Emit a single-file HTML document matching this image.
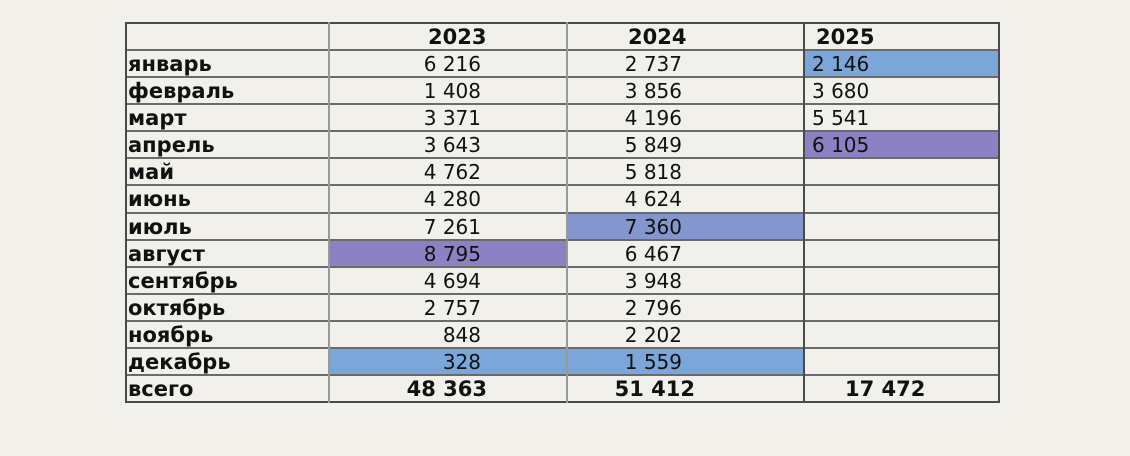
<!DOCTYPE html>
<html><head><meta charset="utf-8">
<style>
body{margin:0;width:1130px;height:456px;background:#f1f0eb;position:relative;overflow:hidden;font-family:"DejaVu Sans","Liberation Sans",sans-serif;}
.c{position:absolute;box-sizing:border-box;}
.t{position:absolute;font-size:20px;line-height:27px;color:#111;white-space:nowrap;}
.b{font-weight:bold;font-size:21px;}
</style></head>
<body>
<div id="tbl"></div>
<script>
const months=["январь","февраль","март","апрель","май","июнь","июль","август","сентябрь","октябрь","ноябрь","декабрь"];
const years=["2023","2024","2025"];
const v2023=["6 216","1 408","3 371","3 643","4 762","4 280","7 261","8 795","4 694","2 757","848","328"];
const v2024=["2 737","3 856","4 196","5 849","5 818","4 624","7 360","6 467","3 948","2 796","2 202","1 559"];
const v2025=["2 146","3 680","5 541","6 105","","","","","","","",""];
const totals=["48 363","51 412","17 472"];
const hl={"0-7":"#8a82c2","0-11":"#7ba6da","1-6":"#8397ce","1-11":"#7ba6da","2-0":"#7ba6da","2-3":"#8a82c2"};
const T=document.getElementById('tbl');
const X=[126,329,567,804,999], Y0=23, RH=(402-23)/14;
function add(cls,css,txt){const d=document.createElement('div');d.className=cls;d.style.cssText=css;if(txt!==undefined)d.textContent=txt;T.appendChild(d);return d;}
for(const k in hl){const [c,r]=k.split('-').map(Number);
 const d=add('c',`left:${X[c+1]}px;top:${Y0+(r+1)*RH}px;width:${X[c+2]-X[c+1]}px;height:${RH}px;background:${hl[k]}`);
 
 }
for(let i=0;i<=14;i++){const d=add('c',`left:126px;top:${Math.round(Y0+i*RH)-1}px;width:874px;height:2px;background:${(i==0||i==14)?'#4a4a4a':'#6a6a6a'}`);
 
 }
for(let i=0;i<5;i++){const d=add('c',`left:${X[i]-1}px;top:22px;width:2px;height:381px;background:${(i==0||i==4||i==3)?'#4a4a4a':'#999'}`);
 
 }
const hx=[428,628,816];
years.forEach((y,i)=>{const d=add('t b',`left:${hx[i]}px;top:${Y0+1}px`,y);
 
 });
months.forEach((m,r)=>{const top=Y0+(r+1)*RH+1;
 let d=add('t b',`left:128px;top:${top}px`,m);
 
 
 d=add('t',`right:${1130-481}px;top:${top}px`,v2023[r]);
 
 
 d=add('t',`right:${1130-682}px;top:${top}px`,v2024[r]);
 
 
 d=add('t',`left:812px;top:${top}px`,v2025[r]);
 
 });
const tt=Y0+13*RH+1;
let d=add('t b',`left:128px;top:${tt}px`,"всего");


d=add('t b',`right:${1130-487}px;top:${tt}px`,totals[0]);


d=add('t b',`right:${1130-695}px;top:${tt}px`,totals[1]);


d=add('t b',`left:845px;top:${tt}px`,totals[2]);


</script>
</body></html>
